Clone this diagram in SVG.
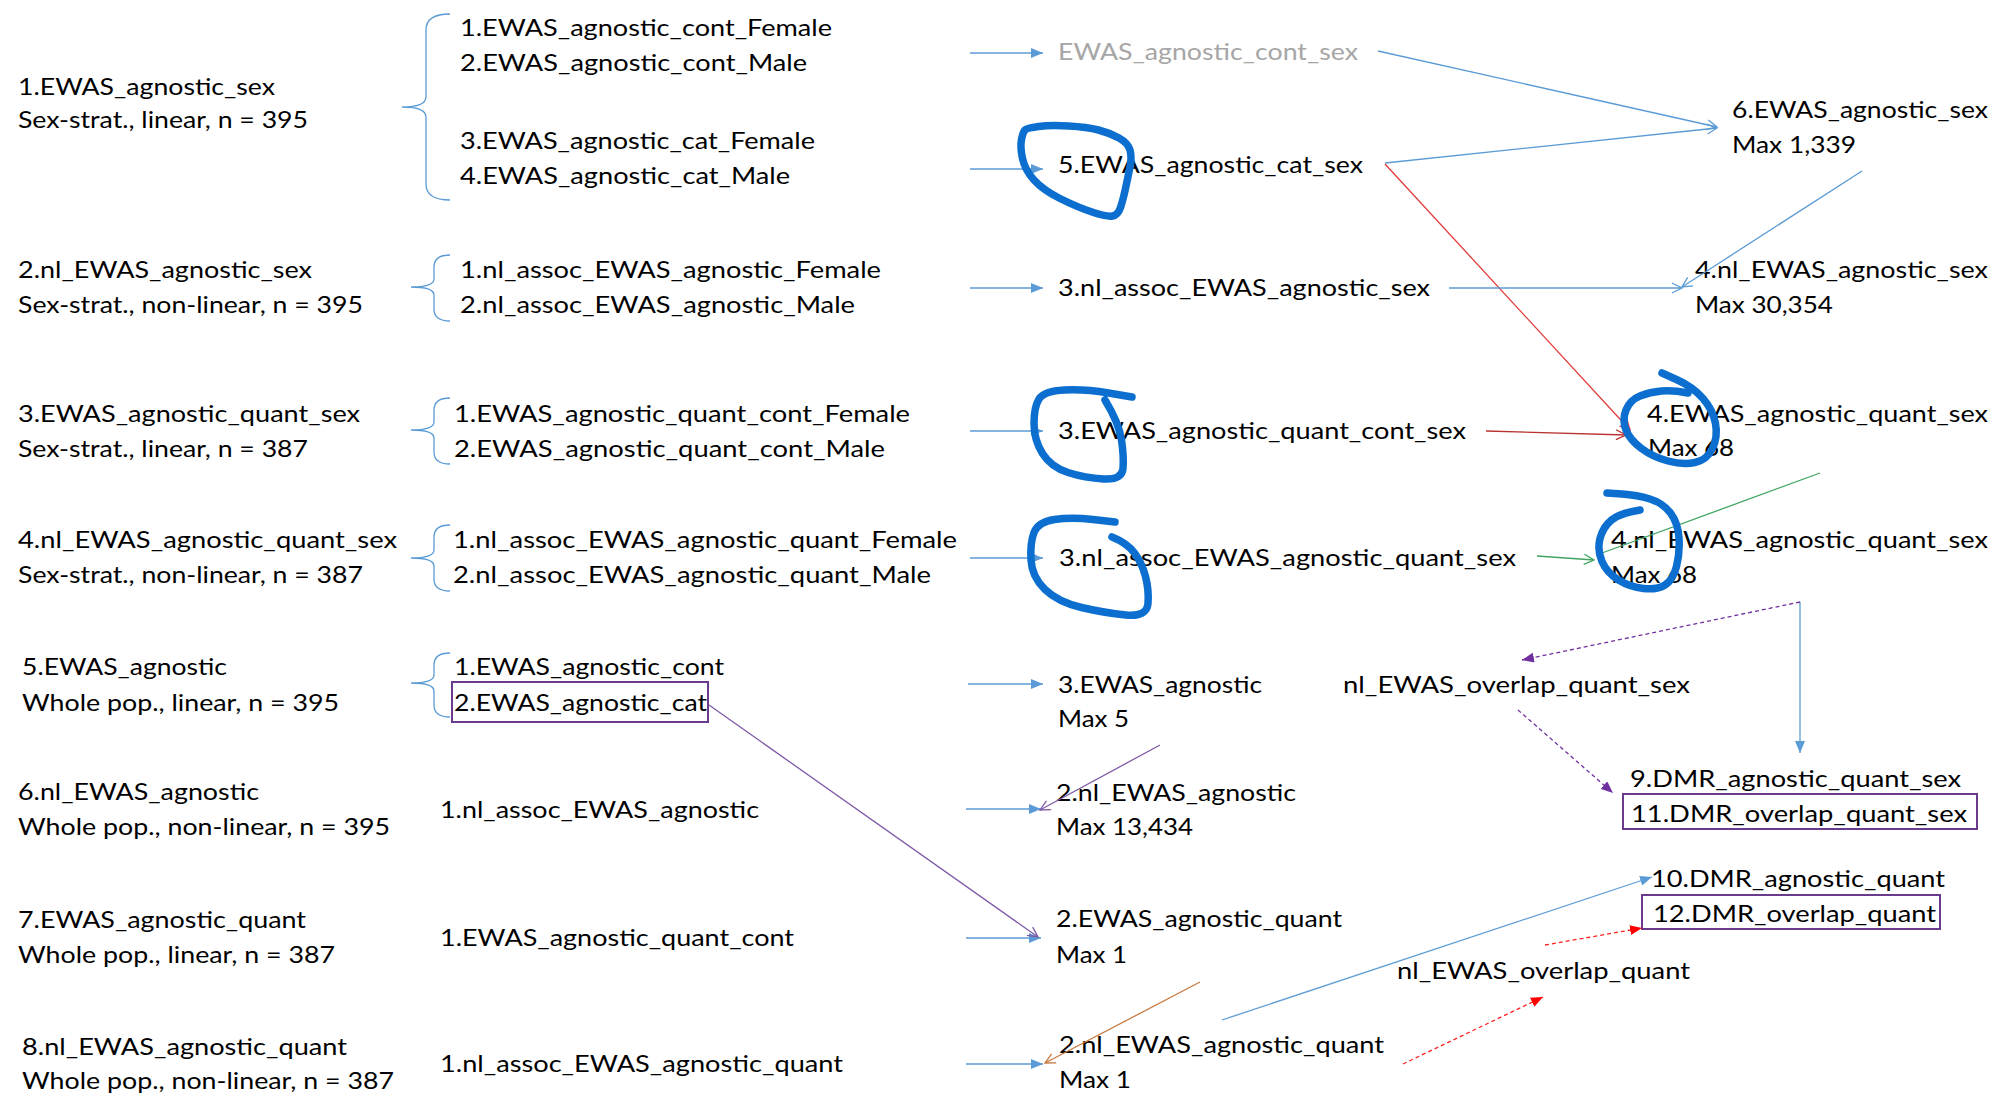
<svg xmlns="http://www.w3.org/2000/svg" width="2007" height="1116" viewBox="0 0 2007 1116">
<style>
text{font-family:Lato,"Liberation Sans",sans-serif;font-size:24px;fill:#000}
.g{fill:#A6A6A6}
.br{fill:none;stroke:#5B9BD5;stroke-width:1.3}
.c{fill:none;stroke-width:1.3}
.blue{stroke:#5B9BD5}
.red{stroke:#E03A3A}
.dred{stroke:#B8322F}
.grn{stroke:#3FA562}
.pur{stroke:#7E5AA6}
.brn{stroke:#C87A40}
.dpur{stroke:#7030A0;stroke-dasharray:4 3}
.dr{stroke:#FF2020;stroke-dasharray:4 3}
.box{fill:none;stroke:#6A3B8C;stroke-width:2}
.loop{fill:none;stroke:#0C6FD0;stroke-width:7.5;stroke-linecap:round;stroke-linejoin:round}
</style>
<defs>
<marker id="fb" viewBox="0 0 12 10" refX="12" refY="5" markerWidth="12" markerHeight="10" markerUnits="userSpaceOnUse" orient="auto"><path d="M0,0L12,5L0,10z" fill="#5B9BD5"/></marker>
<marker id="fp" viewBox="0 0 12 10" refX="12" refY="5" markerWidth="12" markerHeight="10" markerUnits="userSpaceOnUse" orient="auto"><path d="M0,0L12,5L0,10z" fill="#7030A0"/></marker>
<marker id="fr" viewBox="0 0 12 10" refX="12" refY="5" markerWidth="12" markerHeight="10" markerUnits="userSpaceOnUse" orient="auto"><path d="M0,0L12,5L0,10z" fill="#FF0000"/></marker>
<marker id="ob" viewBox="0 0 12 12" refX="11" refY="6" markerWidth="12" markerHeight="12" markerUnits="userSpaceOnUse" orient="auto"><path d="M1,1L11,6L1,11" fill="none" stroke="#5B9BD5" stroke-width="1.3"/></marker>
<marker id="or" viewBox="0 0 12 12" refX="11" refY="6" markerWidth="12" markerHeight="12" markerUnits="userSpaceOnUse" orient="auto"><path d="M1,1L11,6L1,11" fill="none" stroke="#E03A3A" stroke-width="1.3"/></marker>
<marker id="odr" viewBox="0 0 12 12" refX="11" refY="6" markerWidth="12" markerHeight="12" markerUnits="userSpaceOnUse" orient="auto"><path d="M1,1L11,6L1,11" fill="none" stroke="#B8322F" stroke-width="1.3"/></marker>
<marker id="og" viewBox="0 0 12 12" refX="11" refY="6" markerWidth="12" markerHeight="12" markerUnits="userSpaceOnUse" orient="auto"><path d="M1,1L11,6L1,11" fill="none" stroke="#3FA562" stroke-width="1.3"/></marker>
<marker id="op" viewBox="0 0 12 12" refX="11" refY="6" markerWidth="12" markerHeight="12" markerUnits="userSpaceOnUse" orient="auto"><path d="M1,1L11,6L1,11" fill="none" stroke="#7E5AA6" stroke-width="1.3"/></marker>
<marker id="obr" viewBox="0 0 12 12" refX="11" refY="6" markerWidth="12" markerHeight="12" markerUnits="userSpaceOnUse" orient="auto"><path d="M1,1L11,6L1,11" fill="none" stroke="#C87A40" stroke-width="1.3"/></marker>
</defs>

<g id="row-inputs">
<g id="in1"><text x="18" y="95" textLength="257" lengthAdjust="spacingAndGlyphs">1.EWAS_agnostic_sex</text><text x="18" y="128" textLength="290" lengthAdjust="spacingAndGlyphs">Sex-strat., linear, n = 395</text></g>
<g id="in2"><text x="18" y="278" textLength="294" lengthAdjust="spacingAndGlyphs">2.nl_EWAS_agnostic_sex</text><text x="18" y="313" textLength="345" lengthAdjust="spacingAndGlyphs">Sex-strat., non-linear, n = 395</text></g>
<g id="in3"><text x="18" y="422" textLength="342" lengthAdjust="spacingAndGlyphs">3.EWAS_agnostic_quant_sex</text><text x="18" y="457" textLength="290" lengthAdjust="spacingAndGlyphs">Sex-strat., linear, n = 387</text></g>
<g id="in4"><text x="18" y="548" textLength="379" lengthAdjust="spacingAndGlyphs">4.nl_EWAS_agnostic_quant_sex</text><text x="18" y="583" textLength="345" lengthAdjust="spacingAndGlyphs">Sex-strat., non-linear, n = 387</text></g>
<g id="in5"><text x="22" y="675" textLength="205" lengthAdjust="spacingAndGlyphs">5.EWAS_agnostic</text><text x="22" y="711" textLength="317" lengthAdjust="spacingAndGlyphs">Whole pop., linear, n = 395</text></g>
<g id="in6"><text x="18" y="800" textLength="241" lengthAdjust="spacingAndGlyphs">6.nl_EWAS_agnostic</text><text x="18" y="835" textLength="372" lengthAdjust="spacingAndGlyphs">Whole pop., non-linear, n = 395</text></g>
<g id="in7"><text x="18" y="928" textLength="288" lengthAdjust="spacingAndGlyphs">7.EWAS_agnostic_quant</text><text x="18" y="963" textLength="317" lengthAdjust="spacingAndGlyphs">Whole pop., linear, n = 387</text></g>
<g id="in8"><text x="22" y="1055" textLength="325" lengthAdjust="spacingAndGlyphs">8.nl_EWAS_agnostic_quant</text><text x="22" y="1089" textLength="372" lengthAdjust="spacingAndGlyphs">Whole pop., non-linear, n = 387</text></g>
</g>

<g id="braces">
<path class="br" d="M450,14 Q426,14 426,30 L426,97 Q426,107 402,107 Q426,107 426,117 L426,184 Q426,200 450,200"/>
<path class="br" d="M450,255 Q434,255 434,267 L434,279 Q434,287 411,287 Q434,287 434,295 L434,309 Q434,321 450,321"/>
<path class="br" d="M450,398 Q434,398 434,410 L434,422 Q434,430 411,430 Q434,430 434,438 L434,452 Q434,464 450,464"/>
<path class="br" d="M450,525 Q434,525 434,537 L434,550 Q434,558 411,558 Q434,558 434,566 L434,579 Q434,591 450,591"/>
<path class="br" d="M450,653 Q434,653 434,665 L434,675 Q434,683 411,683 Q434,683 434,691 L434,705 Q434,717 450,717"/>
</g>

<g id="subsets">
<g id="s1"><text x="460" y="36" textLength="372" lengthAdjust="spacingAndGlyphs">1.EWAS_agnostic_cont_Female</text><text x="460" y="71" textLength="347" lengthAdjust="spacingAndGlyphs">2.EWAS_agnostic_cont_Male</text><text x="460" y="149" textLength="355" lengthAdjust="spacingAndGlyphs">3.EWAS_agnostic_cat_Female</text><text x="460" y="184" textLength="330" lengthAdjust="spacingAndGlyphs">4.EWAS_agnostic_cat_Male</text></g>
<g id="s2"><text x="460" y="278" textLength="421" lengthAdjust="spacingAndGlyphs">1.nl_assoc_EWAS_agnostic_Female</text><text x="460" y="313" textLength="395" lengthAdjust="spacingAndGlyphs">2.nl_assoc_EWAS_agnostic_Male</text></g>
<g id="s3"><text x="454" y="422" textLength="456" lengthAdjust="spacingAndGlyphs">1.EWAS_agnostic_quant_cont_Female</text><text x="454" y="457" textLength="431" lengthAdjust="spacingAndGlyphs">2.EWAS_agnostic_quant_cont_Male</text></g>
<g id="s4"><text x="453" y="548" textLength="504" lengthAdjust="spacingAndGlyphs">1.nl_assoc_EWAS_agnostic_quant_Female</text><text x="453" y="583" textLength="478" lengthAdjust="spacingAndGlyphs">2.nl_assoc_EWAS_agnostic_quant_Male</text></g>
<g id="s5"><text x="454" y="675" textLength="270" lengthAdjust="spacingAndGlyphs">1.EWAS_agnostic_cont</text><rect class="box" x="452" y="682" width="256" height="40"/><text x="454" y="711" textLength="253" lengthAdjust="spacingAndGlyphs">2.EWAS_agnostic_cat</text></g>
<g id="s6"><text x="440" y="818" textLength="319" lengthAdjust="spacingAndGlyphs">1.nl_assoc_EWAS_agnostic</text></g>
<g id="s7"><text x="440" y="946" textLength="354" lengthAdjust="spacingAndGlyphs">1.EWAS_agnostic_quant_cont</text></g>
<g id="s8"><text x="440" y="1072" textLength="403" lengthAdjust="spacingAndGlyphs">1.nl_assoc_EWAS_agnostic_quant</text></g>
</g>

<g id="results">
<g id="r1"><text class="g" x="1058" y="60" textLength="300" lengthAdjust="spacingAndGlyphs">EWAS_agnostic_cont_sex</text></g>
<g id="r2"><text x="1058" y="173" textLength="305" lengthAdjust="spacingAndGlyphs">5.EWAS_agnostic_cat_sex</text></g>
<g id="r3"><text x="1058" y="296" textLength="372" lengthAdjust="spacingAndGlyphs">3.nl_assoc_EWAS_agnostic_sex</text></g>
<g id="r4"><text x="1058" y="439" textLength="408" lengthAdjust="spacingAndGlyphs">3.EWAS_agnostic_quant_cont_sex</text></g>
<g id="r5"><text x="1059" y="566" textLength="457" lengthAdjust="spacingAndGlyphs">3.nl_assoc_EWAS_agnostic_quant_sex</text></g>
<g id="r6"><text x="1058" y="693" textLength="204" lengthAdjust="spacingAndGlyphs">3.EWAS_agnostic</text><text x="1058" y="727" textLength="71" lengthAdjust="spacingAndGlyphs">Max 5</text></g>
<g id="r7"><text x="1056" y="801" textLength="240" lengthAdjust="spacingAndGlyphs">2.nl_EWAS_agnostic</text><text x="1056" y="835" textLength="137" lengthAdjust="spacingAndGlyphs">Max 13,434</text></g>
<g id="r8"><text x="1056" y="927" textLength="286" lengthAdjust="spacingAndGlyphs">2.EWAS_agnostic_quant</text><text x="1056" y="963" textLength="71" lengthAdjust="spacingAndGlyphs">Max 1</text></g>
<g id="r9"><text x="1059" y="1053" textLength="325" lengthAdjust="spacingAndGlyphs">2.nl_EWAS_agnostic_quant</text><text x="1059" y="1088" textLength="72" lengthAdjust="spacingAndGlyphs">Max 1</text></g>
</g>

<g id="merged">
<g id="m1"><text x="1732" y="118" textLength="256" lengthAdjust="spacingAndGlyphs">6.EWAS_agnostic_sex</text><text x="1732" y="153" textLength="124" lengthAdjust="spacingAndGlyphs">Max 1,339</text></g>
<g id="m2"><text x="1695" y="278" textLength="293" lengthAdjust="spacingAndGlyphs">4.nl_EWAS_agnostic_sex</text><text x="1695" y="313" textLength="138" lengthAdjust="spacingAndGlyphs">Max 30,354</text></g>
<g id="m3"><text x="1647" y="422" textLength="341" lengthAdjust="spacingAndGlyphs">4.EWAS_agnostic_quant_sex</text><text x="1648" y="456" textLength="86" lengthAdjust="spacingAndGlyphs">Max 68</text></g>
<g id="m4"><text x="1611" y="548" textLength="377" lengthAdjust="spacingAndGlyphs">4.nl_EWAS_agnostic_quant_sex</text><text x="1611" y="583" textLength="86" lengthAdjust="spacingAndGlyphs">Max 68</text></g>
<g id="ov1"><text x="1343" y="693" textLength="347" lengthAdjust="spacingAndGlyphs">nl_EWAS_overlap_quant_sex</text></g>
<g id="d9"><text x="1630" y="787" textLength="331" lengthAdjust="spacingAndGlyphs">9.DMR_agnostic_quant_sex</text></g>
<g id="d11"><rect class="box" x="1623" y="794" width="354" height="35"/><text x="1631" y="822" textLength="336" lengthAdjust="spacingAndGlyphs">11.DMR_overlap_quant_sex</text></g>
<g id="d10"><text x="1651" y="887" textLength="294" lengthAdjust="spacingAndGlyphs">10.DMR_agnostic_quant</text></g>
<g id="d12"><rect class="box" x="1642" y="895" width="298" height="34"/><text x="1653" y="922" textLength="283" lengthAdjust="spacingAndGlyphs">12.DMR_overlap_quant</text></g>
<g id="ov2"><text x="1397" y="979" textLength="293" lengthAdjust="spacingAndGlyphs">nl_EWAS_overlap_quant</text></g>
</g>

<g id="connectors">
<line class="c blue" x1="970" y1="53" x2="1043" y2="53" marker-end="url(#fb)"/>
<line class="c blue" x1="970" y1="169" x2="1043" y2="169" marker-end="url(#fb)"/>
<line class="c blue" x1="970" y1="288" x2="1043" y2="288" marker-end="url(#fb)"/>
<line class="c blue" x1="970" y1="431" x2="1043" y2="431" marker-end="url(#fb)"/>
<line class="c blue" x1="970" y1="558" x2="1043" y2="558" marker-end="url(#fb)"/>
<line class="c blue" x1="968" y1="684" x2="1043" y2="684" marker-end="url(#fb)"/>
<line class="c blue" x1="966" y1="809" x2="1041" y2="809" marker-end="url(#fb)"/>
<line class="c blue" x1="966" y1="938" x2="1041" y2="938" marker-end="url(#fb)"/>
<line class="c blue" x1="966" y1="1064" x2="1043" y2="1064" marker-end="url(#fb)"/>
<line class="c blue" x1="1378" y1="51" x2="1717" y2="127" marker-end="url(#ob)"/>
<line class="c blue" x1="1385" y1="163" x2="1717" y2="128" marker-end="url(#ob)"/>
<line class="c red" x1="1385" y1="164" x2="1630" y2="430" marker-end="url(#or)"/>
<line class="c blue" x1="1862" y1="171" x2="1682" y2="287" marker-end="url(#ob)"/>
<line class="c blue" x1="1449" y1="288" x2="1682" y2="288" marker-end="url(#ob)"/>
<line class="c dred" x1="1486" y1="431" x2="1626" y2="435" marker-end="url(#odr)"/>
<line class="c grn" x1="1820" y1="473" x2="1602" y2="553"/>
<line class="c grn" x1="1537" y1="556" x2="1594" y2="560" marker-end="url(#og)"/>
<line class="c blue" x1="1800" y1="602" x2="1800" y2="753" marker-end="url(#fb)"/>
<line class="c dpur" x1="1800" y1="602" x2="1522" y2="660" marker-end="url(#fp)"/>
<line class="c dpur" x1="1518" y1="710" x2="1613" y2="793" marker-end="url(#fp)"/>
<line class="c pur" x1="709" y1="705" x2="1038" y2="937" marker-end="url(#op)"/>
<line class="c pur" x1="1160" y1="745" x2="1040" y2="810" marker-end="url(#op)"/>
<line class="c brn" x1="1200" y1="982" x2="1045" y2="1063" marker-end="url(#obr)"/>
<line class="c blue" x1="1222" y1="1020" x2="1652" y2="877" marker-end="url(#fb)"/>
<line class="c dr" x1="1545" y1="945" x2="1642" y2="928" marker-end="url(#fr)"/>
<line class="c dr" x1="1403" y1="1064" x2="1543" y2="997" marker-end="url(#fr)"/>
</g>

<g id="annotations">
<path class="loop" d="M1025,130 Q1027,128 1038.5,126.5 Q1050,125 1068.5,126 Q1087,127 1098.5,130 Q1110,133 1119,138 Q1128,143 1130,150 Q1132,157 1130,167 Q1128,177 1125.5,188.5 Q1123,200 1120.5,207.5 Q1118,215 1112.5,216 Q1107,217 1092,212 Q1077,207 1060,198.5 Q1043,190 1034,180 Q1025,170 1022.5,158.5 Q1020,147 1021.5,139.5 Q1023,132 1025,130 Z"/>
<path class="loop" d="M1132,397 L1108.5,393 Q1085,389 1064.5,390 Q1044,391 1039,399 Q1034,407 1034,423.5 Q1034,440 1042.5,453.5 Q1051,467 1068,472.5 Q1085,478 1103.5,479 Q1122,480 1123,468.5 Q1124,457 1121.5,440 Q1119,423 1105,400"/>
<path class="loop" d="M1115,522 L1093,519.5 Q1071,517 1054.5,519.5 Q1038,522 1034,532.5 Q1030,543 1031,560 Q1032,577 1045,589.5 Q1058,602 1081.5,607.5 Q1105,613 1126,615 Q1147,617 1148,603.5 Q1149,590 1145.5,576.5 Q1142,563 1134.5,553 Q1127,543 1112,537"/>
<path class="loop" d="M1662,373 L1677.5,380 Q1693,387 1703,398.5 Q1713,410 1715.5,423.5 Q1718,437 1712.5,448.5 Q1707,460 1695,462.5 Q1683,465 1668,461 Q1653,457 1641.5,448.5 Q1630,440 1626,430 Q1622,420 1626,410 Q1630,400 1640,396 Q1650,392 1661.5,391 Q1673,390 1688,393"/>
<path class="loop" d="M1607,493 L1622,494 Q1637,495 1650,499 Q1663,503 1670.5,513 Q1678,523 1679,538 Q1680,553 1676.5,566.5 Q1673,580 1665,585 Q1657,590 1643.5,588.5 Q1630,587 1618.5,580 Q1607,573 1602,561.5 Q1597,550 1600,538.5 Q1603,527 1611.5,520 Q1620,513 1640,510"/>
</g>
</svg>
